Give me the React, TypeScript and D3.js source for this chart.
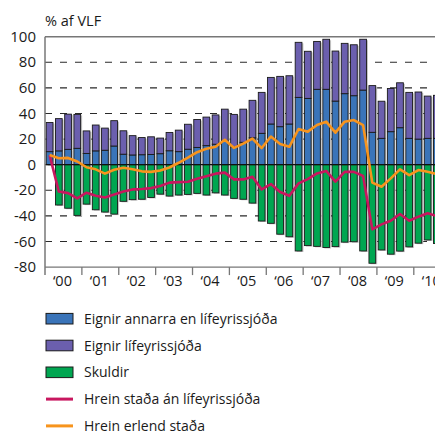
import * as d3 from "d3";
import { useEffect, useRef } from "react";

// 2000Q1 .. 2010Q3, % af VLF
const quarters = d3.range(43).map((i) => `${2000 + Math.floor(i / 4)}Q${(i % 4) + 1}`);

const eignirAnnarra = [
  10.2, 10.8, 12, 12.8, 8.8, 10.8, 11.3, 14.6, 8.2, 7.6, 7.8, 8, 8.6, 10.9, 10.2, 12.1,
  13.5, 14.9, 16, 18.5, 13.8, 17.5, 21, 24.5, 31.8, 29.7, 31.8, 52.6, 51.8, 58.9, 58.9, 49.7,
  55.5, 53.9, 58.3, 25.3, 20.6, 25.8, 28.9, 20.6, 20, 20.6, 20.6,
];

const eignirLif = [
  22.8, 25.2, 27.5, 26.5, 17.6, 20.2, 17.3, 19.8, 18.3, 15.1, 13.4, 13.8, 12.2, 14.3, 16.8, 19.5,
  21.8, 22.3, 22.9, 24.9, 25.5, 25.9, 29.3, 32, 36.4, 39.3, 37.7, 43, 36.8, 37.4, 39.1, 39.1,
  39.3, 39.8, 39.7, 36.5, 29, 33.7, 35.1, 35.9, 36.8, 33, 33.6,
];

const skuldir = [
  0, -31.5, -34, -39.6, -30.8, -35.2, -37, -38.6, -28.6, -27.3, -27, -25.6, -23, -24.5, -23.7, -23.2,
  -22.4, -23.7, -22, -23.7, -26.3, -27, -30, -44, -45.8, -54.3, -56.3, -67.4, -63.2, -63.8, -64.7, -64,
  -60.5, -60.2, -67.4, -77, -66.6, -69.9, -67.5, -64.2, -61.3, -58.8, -61.6,
];

const hreinAnLif = [
  7.5, -21, -22.2, -26.3, -21.9, -24.2, -25.6, -23.3, -21, -19.3, -19, -18.3, -16.7, -14, -13.6, -13.3,
  -11, -9, -7, -6.2, -11.5, -11.5, -9.4, -19.3, -15.1, -21.3, -24.3, -14.6, -11.3, -6.8, -4.9, -13.2,
  -5.6, -5.6, -8.8, -50.5, -46.6, -43.8, -38.5, -43.8, -40.6, -38, -40.1,
];

const hreinErlend = [
  7.6, 5, 5.3, 2.5, -2, -3.6, -7, -4, -2.4, -3.5, -5.2, -5.6, -4.5, -2.2, 1.5, 5.5,
  9.8, 12.4, 14, 19.5, 13.1, 16.5, 20.4, 13, 22, 16.1, 14, 27.9, 25.8, 31, 33.6, 25,
  33.6, 34.9, 31, -14, -17.2, -10.7, -3.6, -8.1, -4.2, -5.5, -7.3,
];

const years = d3.range(2000, 2011);
const yTicks = [100, 80, 60, 40, 20, 0, -20, -40, -60, -80];
const gridTicks = [80, 60, 40, 20, -20, -40, -60];

const legendItems = [
  { label: "Eignir annarra en lífeyrissjóða", color: "#3a74b9", kind: "rect" },
  { label: "Eignir lífeyrissjóða", color: "#6b5fae", kind: "rect" },
  { label: "Skuldir", color: "#00a651", kind: "rect" },
  { label: "Hrein staða án lífeyrissjóða", color: "#c8175f", kind: "line" },
  { label: "Hrein erlend staða", color: "#f7941d", kind: "line" },
];

const width = 435;
const height = 434;
const font = "'Open Sans', sans-serif";

export default function App() {
  const ref = useRef<SVGSVGElement>(null);

  useEffect(() => {
    const svg = d3.select(ref.current);
    svg.selectAll("*").remove();

    const left = 45;
    const step = 9.22;

    const x = d3
      .scaleBand()
      .domain(quarters)
      .range([left, left + step * quarters.length])
      .paddingInner(0.27)
      .paddingOuter(0.135);

    const xYear = d3
      .scaleLinear()
      .domain([2000, 2001])
      .range([left, left + step * 4]);

    const y = d3.scaleLinear().domain([-80, 100]).range([267.1, 36.7]);

    const right = width + 10;

    // grid
    svg
      .append("g")
      .selectAll("line")
      .data(gridTicks)
      .enter()
      .append("line")
      .attr("x1", left)
      .attr("x2", right)
      .attr("y1", (d) => y(d))
      .attr("y2", (d) => y(d))
      .attr("stroke", "#2a2a2a")
      .attr("stroke-width", 1.1)
      .attr("stroke-dasharray", "7,8");

    const bw = x.bandwidth();
    const segs: { q: string; y0: number; y1: number; color: string }[] = [];
    quarters.forEach((q, i) => {
      segs.push({ q, y0: 0, y1: eignirAnnarra[i], color: "#3a74b9" });
      segs.push({ q, y0: eignirAnnarra[i], y1: eignirAnnarra[i] + eignirLif[i], color: "#6b5fae" });
      if (skuldir[i] < 0) segs.push({ q, y0: skuldir[i], y1: 0, color: "#00a651" });
    });

    // shadows
    svg
      .append("g")
      .selectAll("rect")
      .data(segs)
      .enter()
      .append("rect")
      .attr("x", (d) => x(d.q)! + 1.5)
      .attr("y", (d) => y(Math.max(d.y0, d.y1)) + 1)
      .attr("width", bw)
      .attr("height", (d) => Math.abs(y(d.y0) - y(d.y1)))
      .attr("fill", "#c4c4c4");

    svg
      .append("g")
      .selectAll("rect")
      .data(segs)
      .enter()
      .append("rect")
      .attr("x", (d) => x(d.q)!)
      .attr("y", (d) => y(Math.max(d.y0, d.y1)))
      .attr("width", bw)
      .attr("height", (d) => Math.abs(y(d.y0) - y(d.y1)))
      .attr("fill", (d) => d.color)
      .attr("stroke", "#1a1a1a")
      .attr("stroke-width", 0.9);

    // zero line
    svg
      .append("line")
      .attr("x1", left)
      .attr("x2", right)
      .attr("y1", y(0))
      .attr("y2", y(0))
      .attr("stroke", "#111")
      .attr("stroke-width", 1.3);

    const line = d3
      .line<number>()
      .x((_, i) => x(quarters[i])! + bw / 2)
      .y((d) => y(d))
      .curve(d3.curveLinear);

    svg
      .append("path")
      .attr("d", line(hreinAnLif))
      .attr("fill", "none")
      .attr("stroke", "#c8175f")
      .attr("stroke-width", 2.6)
      .attr("stroke-linejoin", "round");

    svg
      .append("path")
      .attr("d", line(hreinErlend))
      .attr("fill", "none")
      .attr("stroke", "#f7941d")
      .attr("stroke-width", 2.6)
      .attr("stroke-linejoin", "round");

    // frame
    svg
      .append("line")
      .attr("x1", left)
      .attr("x2", right)
      .attr("y1", y(100))
      .attr("y2", y(100))
      .attr("stroke", "#777")
      .attr("stroke-width", 1.5);
    svg
      .append("line")
      .attr("x1", left)
      .attr("x2", right)
      .attr("y1", y(-80))
      .attr("y2", y(-80))
      .attr("stroke", "#777")
      .attr("stroke-width", 1.2);
    svg
      .append("line")
      .attr("x1", left)
      .attr("x2", left)
      .attr("y1", y(100))
      .attr("y2", y(-80) + 8)
      .attr("stroke", "#777")
      .attr("stroke-width", 1.5);

    // x ticks and labels
    svg
      .append("g")
      .selectAll("line")
      .data(years.slice(1).concat([2011]))
      .enter()
      .append("line")
      .attr("x1", (d) => xYear(d))
      .attr("x2", (d) => xYear(d))
      .attr("y1", y(-80))
      .attr("y2", y(-80) + 8)
      .attr("stroke", "#777")
      .attr("stroke-width", 1.3);

    svg
      .append("g")
      .selectAll("text")
      .data(years)
      .enter()
      .append("text")
      .attr("x", (d) => xYear(d + 0.5) - 1)
      .attr("y", 286)
      .attr("text-anchor", "middle")
      .attr("font-family", font)
      .attr("font-size", 14.5)
      .attr("fill", "#1a1a1a")
      .text((d) => "\u2018" + String(d).slice(2));

    svg
      .append("g")
      .selectAll("text")
      .data(yTicks)
      .enter()
      .append("text")
      .attr("x", 36)
      .attr("y", (d) => y(d) + 5)
      .attr("text-anchor", "end")
      .attr("font-family", font)
      .attr("font-size", 15)
      .attr("fill", "#1a1a1a")
      .text((d) => String(d));

    svg
      .append("text")
      .attr("x", 45)
      .attr("y", 26)
      .attr("font-family", font)
      .attr("font-size", 14.5)
      .attr("fill", "#1a1a1a")
      .text("% af VLF");

    // legend
    const lg = svg
      .append("g")
      .selectAll("g")
      .data(legendItems)
      .enter()
      .append("g")
      .attr("transform", (_, i) => `translate(46, ${318.7 + i * 26.8})`);

    lg.filter((d) => d.kind === "rect")
      .append("rect")
      .attr("x", 0)
      .attr("y", -5.3)
      .attr("width", 27)
      .attr("height", 10.6)
      .attr("fill", (d) => d.color)
      .attr("stroke", "#1a1a1a")
      .attr("stroke-width", 1);

    lg.filter((d) => d.kind === "line")
      .append("line")
      .attr("x1", 0)
      .attr("x2", 27)
      .attr("y1", 0)
      .attr("y2", 0)
      .attr("stroke", (d) => d.color)
      .attr("stroke-width", 3);

    lg.append("text")
      .attr("x", 38)
      .attr("y", 5)
      .attr("font-family", font)
      .attr("font-size", 14)
      .attr("fill", "#1a1a1a")
      .text((d) => d.label);
  }, []);

  return (
    <svg
      ref={ref}
      width={width}
      height={height}
      style={{ position: "fixed", left: 0, top: 0, background: "#fff" }}
    />
  );
}
